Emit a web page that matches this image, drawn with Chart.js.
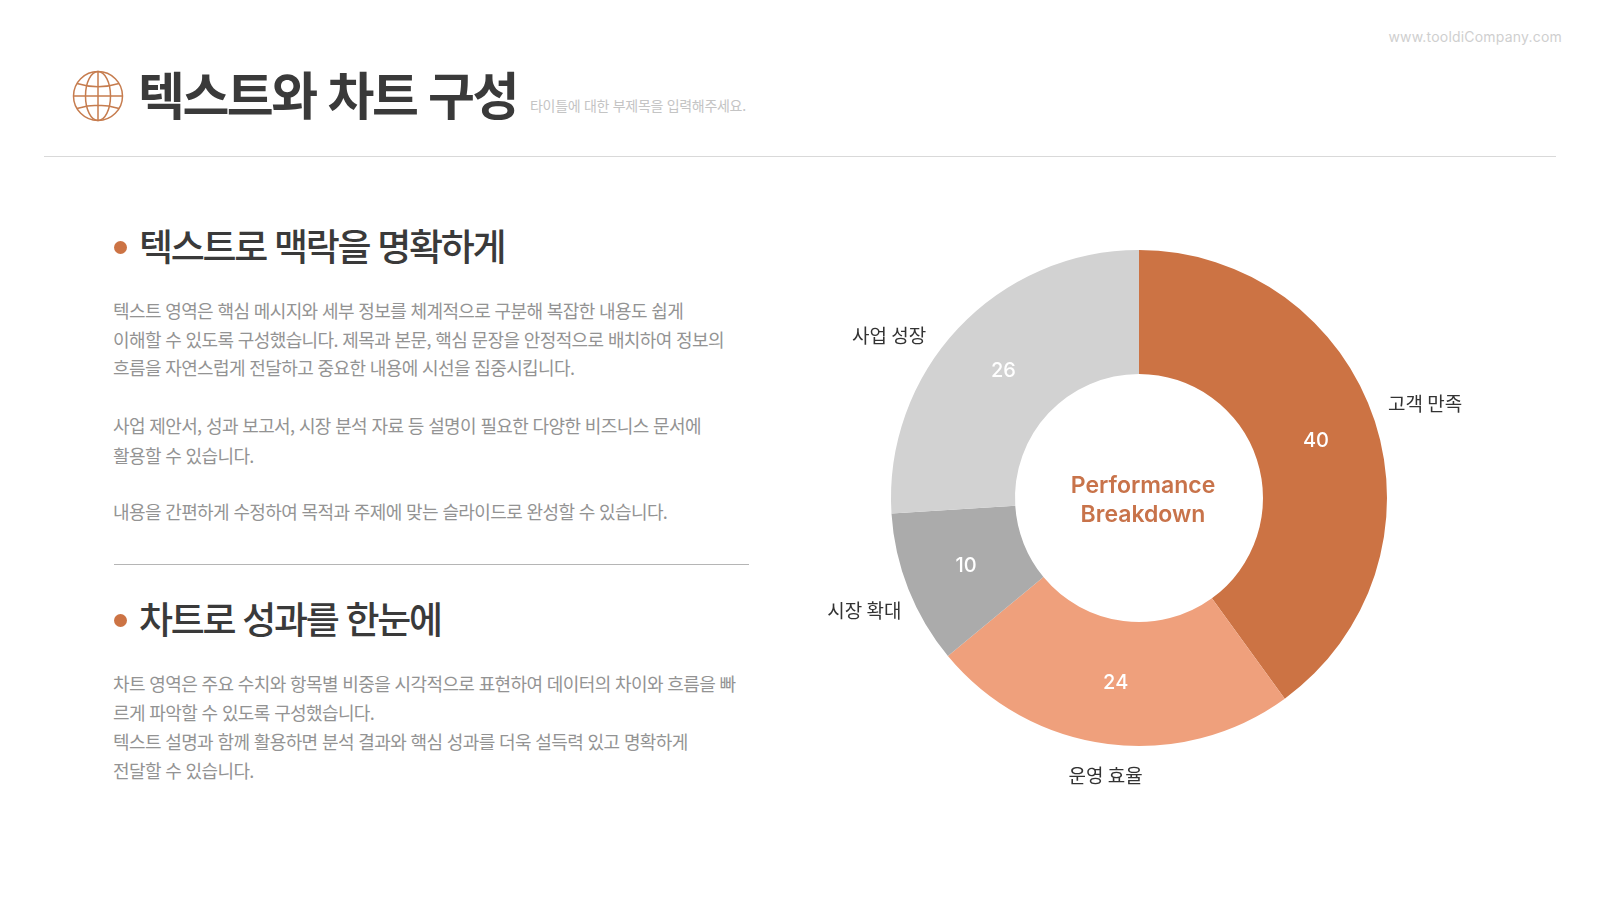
<!DOCTYPE html>
<html lang="ko">
<head>
<meta charset="utf-8">
<title>텍스트와 차트 구성</title>
<script src="https://cdn.jsdelivr.net/npm/chart.js@4"></script>
<style>
    html, body { margin: 0; padding: 0; background: #fff; }
    body { width: 1600px; height: 899px; position: relative; overflow: hidden; font-family: "Noto Sans CJK KR", sans-serif; }
    .t { position: absolute; white-space: pre; line-height: 40px; height: 40px; }
    .title { left: 138px; top: 73px; font-size: 51px; font-weight: 700; color: #3a3a3a; letter-spacing: -2.5px; line-height: 40px; }
    .sub { left: 530px; top: 85px; font-size: 14px; color: #c4c4c4; letter-spacing: -0.3px; }
    .web { right: 38px; top: 17px; font-size: 14px; color: #cfcfcf; font-family: Inter, sans-serif; letter-spacing: 0.2px; }
    .head { left: 139px; font-size: 37px; font-weight: 500; color: #3a3a3a; letter-spacing: -2.3px; }
    .body { left: 113px; font-size: 18px; color: #939393; letter-spacing: -0.62px; }
    .rule { position: absolute; height: 1px; }
    .dot { position: absolute; width: 13px; height: 13px; border-radius: 50%; background: #CC7344; left: 114px; }
    #wrap { position: absolute; left: 809px; top: 188px; width: 660px; height: 620px; }
    #globe { position: absolute; left: 72px; top: 70px; }
</style>
</head>
<body>
<svg id="globe" width="52" height="52" viewBox="0 0 52 52" fill="none" stroke="#C67C4E" stroke-width="1.5">
    <circle cx="26" cy="26" r="24.5"/>
    <ellipse cx="26" cy="26" rx="12.5" ry="24.5"/>
    <path d="M26 1.5V50.5M1.5 26H50.5M5 13.5Q26 20 47 13.5M5 38.5Q26 32 47 38.5"/>
</svg>
<div class="t title">텍스트와 차트 구성</div>
<div class="t sub">타이틀에 대한 부제목을 입력해주세요.</div>
<div class="t web">www.tooldiCompany.com</div>
<div class="rule" style="left:44px;top:156px;width:1512px;background:#d9d9d9"></div>

<div class="dot" style="top:241px"></div>
<div class="t head" style="top:225px">텍스트로 맥락을 명확하게</div>
<div class="t body" style="top:290px">텍스트 영역은 핵심 메시지와 세부 정보를 체계적으로 구분해 복잡한 내용도 쉽게</div>
<div class="t body" style="top:319px">이해할 수 있도록 구성했습니다. 제목과 본문, 핵심 문장을 안정적으로 배치하여 정보의</div>
<div class="t body" style="top:347px">흐름을 자연스럽게 전달하고 중요한 내용에 시선을 집중시킵니다.</div>
<div class="t body" style="top:405px">사업 제안서, 성과 보고서, 시장 분석 자료 등 설명이 필요한 다양한 비즈니스 문서에</div>
<div class="t body" style="top:435px">활용할 수 있습니다.</div>
<div class="t body" style="top:491px">내용을 간편하게 수정하여 목적과 주제에 맞는 슬라이드로 완성할 수 있습니다.</div>
<div class="rule" style="left:114px;top:564px;width:635px;background:#b5b5b5"></div>

<div class="dot" style="top:614px"></div>
<div class="t head" style="top:598px">차트로 성과를 한눈에</div>
<div class="t body" style="top:663px">차트 영역은 주요 수치와 항목별 비중을 시각적으로 표현하여 데이터의 차이와 흐름을 빠</div>
<div class="t body" style="top:692px">르게 파악할 수 있도록 구성했습니다.</div>
<div class="t body" style="top:721px">텍스트 설명과 함께 활용하면 분석 결과와 핵심 성과를 더욱 설득력 있고 명확하게</div>
<div class="t body" style="top:750px">전달할 수 있습니다.</div>

<div id="wrap"><canvas id="donut" width="660" height="620"></canvas></div>

<script>
const categories = ["고객 만족", "운영 효율", "시장 확대", "사업 성장"];
const seriesValues = [40, 24, 10, 26];
const sliceColors = ["#CC7344", "#EFA07C", "#ABABAB", "#D2D2D2"];
const centerLines = ["Performance", "Breakdown"];

// the outer labels don't sit exactly on the slice middle, nudge them
const labelNudge = [[3, -2], [4, -17], [2, 3], [-33, 42]];

// value labels in the ring, category labels outside it, title in the hole
const donutText = {
    id: "donutText",
    afterDatasetsDraw(chart) {
        const ctx = chart.ctx;
        const arcs = chart.getDatasetMeta(0).data;
        ctx.save();
        ctx.textAlign = "center";
        ctx.textBaseline = "middle";
        arcs.forEach((arc, i) => {
            const mid = (arc.startAngle + arc.endAngle) / 2;
            const r1 = (arc.innerRadius + arc.outerRadius) / 2;
            const r2 = arc.outerRadius * 1.2;
            ctx.font = '500 20px Inter, sans-serif';
            ctx.fillStyle = "#fff";
            ctx.fillText(seriesValues[i], arc.x + Math.cos(mid) * r1, arc.y + Math.sin(mid) * r1);
            ctx.font = '400 19px "Noto Sans CJK KR", sans-serif';
            ctx.fillStyle = "#333";
            ctx.fillText(categories[i], arc.x + Math.cos(mid) * r2 + labelNudge[i][0], arc.y + Math.sin(mid) * r2 + labelNudge[i][1]);
        });
        const c = arcs[0];
        ctx.font = '600 23px Inter, sans-serif';
        ctx.fillStyle = "#C8734A";
        ctx.fillText(centerLines[0], c.x + 4, c.y - 12);
        ctx.fillText(centerLines[1], c.x + 4, c.y + 17);
        ctx.restore();
    }
};

new Chart(document.getElementById("donut"), {
    type: "doughnut",
    data: {
        labels: categories,
        datasets: [{
            data: seriesValues,
            backgroundColor: sliceColors,
            borderWidth: 0,
            radius: 248
        }]
    },
    options: {
        responsive: false,
        animation: false,
        cutout: "50%",
        plugins: { legend: { display: false }, tooltip: { enabled: false } }
    },
    plugins: [donutText]
});
</script>
</body>
</html>
